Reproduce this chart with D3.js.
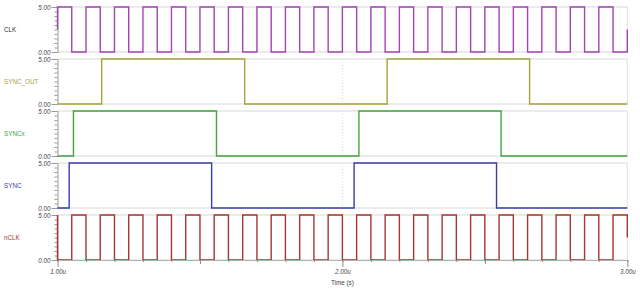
<!DOCTYPE html>
<html>
<head>
<meta charset="utf-8">
<script src="https://cdn.jsdelivr.net/npm/d3@7"></script>
<style>
  body { margin: 0; background: #fff; }
  svg text { font-family: "Liberation Sans", Arial, sans-serif; }
</style>
</head>
<body>
<div id="chart"></div>
<script>
// signal names, top to bottom
const signalNames = ['CLK', 'SYNC_OUT', 'SYNCx', 'SYNC', 'nCLK'];

// each signal: [time (us), level (V)] breakpoints, level held until next point
const clkData = [
  [1.00, 2.5], [1.00, 5], [1.05, 0], [1.10, 5], [1.15, 0], [1.20, 5], [1.25, 0], [1.30, 5], [1.35, 0],
  [1.40, 5], [1.45, 0], [1.50, 5], [1.55, 0], [1.60, 5], [1.65, 0], [1.70, 5], [1.75, 0], [1.80, 5],
  [1.85, 0], [1.90, 5], [1.95, 0], [2.00, 5], [2.05, 0], [2.10, 5], [2.15, 0], [2.20, 5], [2.25, 0],
  [2.30, 5], [2.35, 0], [2.40, 5], [2.45, 0], [2.50, 5], [2.55, 0], [2.60, 5], [2.65, 0], [2.70, 5],
  [2.75, 0], [2.80, 5], [2.85, 0], [2.90, 5], [2.95, 0], [3.00, 0], [3.00, 2.5]
];
const syncOutData = [[1.00, 0], [1.155, 5], [1.657, 0], [2.157, 5], [2.657, 0], [3.00, 0]];
const syncxData = [[1.00, 0], [1.056, 5], [1.558, 0], [2.058, 5], [2.557, 0], [3.00, 0]];
const syncData = [[1.00, 0], [1.041, 5], [1.541, 0], [2.041, 5], [2.541, 0], [3.00, 0]];
const nclkData = [
  [1.00, 5], [1.00, 0], [1.05, 5], [1.10, 0], [1.15, 5], [1.20, 0], [1.25, 5], [1.30, 0], [1.35, 5],
  [1.40, 0], [1.45, 5], [1.50, 0], [1.55, 5], [1.60, 0], [1.65, 5], [1.70, 0], [1.75, 5], [1.80, 0],
  [1.85, 5], [1.90, 0], [1.95, 5], [2.00, 0], [2.05, 5], [2.10, 0], [2.15, 5], [2.20, 0], [2.25, 5],
  [2.30, 0], [2.35, 5], [2.40, 0], [2.45, 5], [2.50, 0], [2.55, 5], [2.60, 0], [2.65, 5], [2.70, 0],
  [2.75, 5], [2.80, 0], [2.85, 5], [2.90, 0], [2.95, 5], [3.00, 5], [3.00, 2.5]
];

const yTickLabels = ['0.00', '5.00'];
const xTickValues = [1, 2, 3];
const xTickLabels = ['1.00u', '2.00u', '3.00u'];
const xAxisTitle = 'Time (s)';

const traceColors = ['#a443b4', '#a6a33d', '#42a442', '#3c3ca6', '#a83434'];
const labelColors = ['#333333', '#a6a33d', '#42a442', '#3c3ca6', '#a83434'];

const config = {
  width: 640,
  height: 288,
  left: 57.5,
  right: 627.3,
  panelTop: 7,
  panelStep: 52,
  panelHeight: 45,
  font: 6.3
};

const signals = [clkData, syncOutData, syncxData, syncData, nclkData];

const svg = d3.select('#chart')
  .append('svg')
  .attr('width', config.width)
  .attr('height', config.height);

const xScale = d3.scaleLinear()
  .domain([1, 3])
  .range([config.left, config.right]);

signals.forEach((data, i) => {
  const top = config.panelTop + i * config.panelStep;
  const yScale = d3.scaleLinear()
    .domain([0, 5])
    .range([top + config.panelHeight, top]);

  const panel = svg.append('g').attr('class', 'panel');

  // gridlines at 0 and 5
  panel.selectAll('.hgrid')
    .data([0, 5])
    .join('line')
    .attr('class', 'hgrid')
    .attr('x1', config.left)
    .attr('x2', config.right)
    .attr('y1', d => yScale(d))
    .attr('y2', d => yScale(d))
    .attr('stroke', '#e4e4e4')
    .attr('stroke-width', 1.5);

  // right border
  panel.append('line')
    .attr('x1', config.right).attr('x2', config.right)
    .attr('y1', yScale(5)).attr('y2', yScale(0))
    .attr('stroke', '#e0e0e0')
    .attr('stroke-width', 1);

  // dotted vertical grid at 2.00u
  panel.append('line')
    .attr('x1', xScale(2)).attr('x2', xScale(2))
    .attr('y1', yScale(5)).attr('y2', yScale(0))
    .attr('stroke', '#d8d8d8')
    .attr('stroke-dasharray', '1,2');

  // minor y ticks
  const yAxisMinor = d3.axisLeft(yScale)
    .tickValues(yScale.ticks(10))
    .tickSize(3)
    .tickSizeOuter(0)
    .tickFormat('');
  panel.append('g')
    .attr('transform', `translate(${config.left},0)`)
    .call(yAxisMinor)
    .call(g => g.selectAll('line,path').attr('stroke', '#9a9a9a'));

  // major y ticks with labels
  const yAxis = d3.axisLeft(yScale)
    .tickValues([0, 5])
    .tickSize(6)
    .tickSizeOuter(0)
    .tickPadding(1)
    .tickFormat((d, j) => yTickLabels[j]);
  panel.append('g')
    .attr('transform', `translate(${config.left},0)`)
    .call(yAxis)
    .call(g => g.select('.domain').remove())
    .call(g => g.selectAll('line').attr('stroke', '#9a9a9a'))
    .call(g => g.selectAll('text')
      .attr('fill', '#444')
      .style('font-size', config.font + 'px')
      .style('font-style', 'italic')
      .style('font-family', '"Liberation Sans", Arial, sans-serif'));

  // signal label
  panel.append('text')
    .attr('x', 4)
    .attr('y', yScale(2.5) + 2.5)
    .attr('fill', labelColors[i])
    .style('font-size', config.font + 'px')
    .text(signalNames[i]);

  // the trace
  const line = d3.line()
    .x(d => xScale(d[0]))
    .y(d => yScale(d[1]))
    .curve(d3.curveStepAfter);

  panel.append('path')
    .datum(data)
    .attr('fill', 'none')
    .attr('stroke', traceColors[i])
    .attr('stroke-width', 1.4)
    .attr('d', line);
});

// x axis under the last panel
const bottom = config.panelTop + 4 * config.panelStep + config.panelHeight;

const xAxisMinor = d3.axisBottom(xScale)
  .tickValues(xScale.ticks(20))
  .tickSize(2)
  .tickSizeOuter(0)
  .tickFormat('');
svg.append('g')
  .attr('transform', `translate(0,${bottom})`)
  .call(xAxisMinor)
  .call(g => g.selectAll('line').attr('stroke', '#8a8a8a'))
  .call(g => g.select('.domain').attr('stroke', '#b0b0b0'));

const xAxisMid = d3.axisBottom(xScale)
  .tickValues([1.5, 2.5])
  .tickSize(4)
  .tickSizeOuter(0)
  .tickFormat('');
svg.append('g')
  .attr('transform', `translate(0,${bottom})`)
  .call(xAxisMid)
  .call(g => g.select('.domain').remove())
  .call(g => g.selectAll('line').attr('stroke', '#8a8a8a'));

const xAxis = d3.axisBottom(xScale)
  .tickValues(xTickValues)
  .tickSize(7)
  .tickSizeOuter(0)
  .tickPadding(3)
  .tickFormat((d, j) => xTickLabels[j]);
svg.append('g')
  .attr('transform', `translate(0,${bottom})`)
  .call(xAxis)
  .call(g => g.select('.domain').remove())
  .call(g => g.selectAll('line').attr('stroke', '#8a8a8a'))
  .call(g => g.selectAll('text')
    .attr('fill', '#444')
    .style('font-size', config.font + 'px')
    .style('font-style', 'italic')
    .style('font-family', '"Liberation Sans", Arial, sans-serif'));

svg.append('text')
  .attr('x', xScale(2))
  .attr('y', 285)
  .attr('text-anchor', 'middle')
  .attr('fill', '#444')
  .style('font-size', config.font + 'px')
  .text(xAxisTitle);
</script>
</body>
</html>
